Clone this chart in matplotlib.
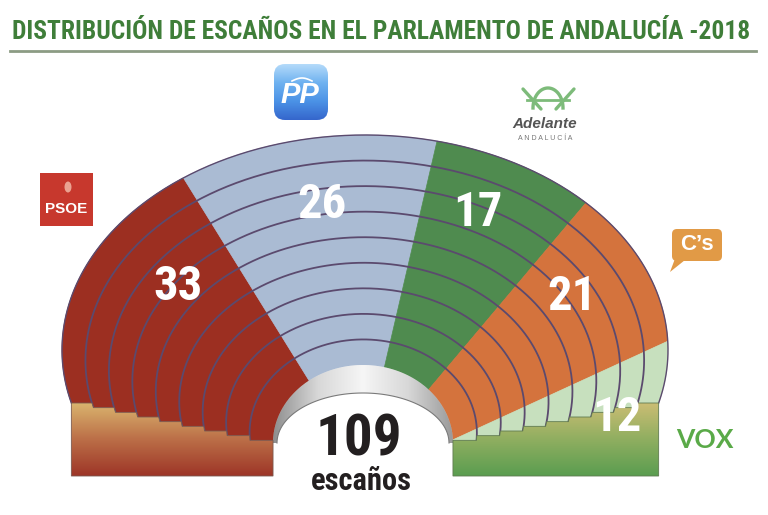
import numpy as np
import matplotlib
matplotlib.use("Agg")
import matplotlib.pyplot as plt
from matplotlib.patches import Polygon, FancyBboxPatch, Rectangle, Ellipse
from matplotlib.colors import LinearSegmentedColormap

# data
parties = ["PSOE", "PP", "Adelante Andalucía", "Cs", "Vox"]
seats = [33, 26, 17, 21, 12]
colors = ["#9c2f21", "#aabbd3", "#4f8b4f", "#d4733d", "#c7e0be"]
title = "DISTRIBUCIÓN DE ESCAÑOS EN EL PARLAMENTO DE ANDALUCÍA -2018"
total = sum(seats)

# layout (pixels, y pointing down)
W, H = 768, 515
label_pos = [(178, 287), (322, 205), (478, 213), (572, 297), (617, 418)]
NARROW = ['Roboto Condensed', 'DejaVu Sans']
SANS = ['Liberation Sans', 'DejaVu Sans']

fig = plt.figure(figsize=(W / 100, H / 100), dpi=100)
ax = fig.add_axes([0, 0, 1, 1])
ax.set_xlim(0, W)
ax.set_ylim(H, 0)
ax.axis('off')

# hemicycle made of rows between an inner and an outer ellipse
n_rows = 9
inner = dict(cx=363, cy=443, rx=90, ry=78)
outer = dict(cx=365, cy=350, rx=303, ry=215)
base_in, base_out, base_bottom = 445, 403, 476
step_y = [base_in - (base_in - base_out) * (k + 1) / n_rows for k in range(n_rows)]
t_start, t_end = 191, -21


def ell(r):
    return {k: inner[k] + r * (outer[k] - inner[k]) for k in inner}


def arc(r, t0, t1, n=120):
    e = ell(r)
    t = np.radians(np.linspace(t0, t1, n))
    return np.column_stack([e['cx'] + e['rx'] * np.cos(t), e['cy'] - e['ry'] * np.sin(t)])


def limits(r, y):
    e = ell(r)
    a = np.degrees(np.arcsin(np.clip((y - e['cy']) / e['ry'], -1, 1)))
    return 180 + a, -a


cum = np.concatenate([[0], np.cumsum(seats)])
bounds = t_start - (t_start - t_end) * cum / total
bounds[0], bounds[-1] = 999, -999

for k in range(n_rows):
    r0, r1 = k / n_rows, (k + 1) / n_rows
    y = step_y[k]
    L0, R0 = limits(r0, y)
    L1, R1 = limits(r1, y)
    for p in range(len(seats)):
        hi, lo = bounds[p], bounds[p + 1]
        a1, b1 = min(hi, L1), max(lo, R1)
        a0, b0 = min(hi, L0), max(lo, R0)
        if a1 <= b1 and a0 <= b0:
            continue
        b1 = min(b1, a1)
        b0 = min(b0, a0)
        poly = np.vstack([arc(r1, a1, b1), arc(r0, b0, a0)])
        ax.add_patch(Polygon(poly, closed=True, facecolor=colors[p],
                             edgecolor=colors[p], lw=0.5, zorder=2))

# row separators
for k in range(1, n_rows + 1):
    r = k / n_rows
    y = step_y[k - 1]
    L, R = limits(r, y)
    xy = arc(r, L, R, 300)
    ax.plot(xy[:, 0], xy[:, 1], color="#5b4a6e", lw=1.3 if k < n_rows else 1.0, zorder=3)


def gradient_fill(poly_xy, cols, vertical=True, zorder=4):
    patch = Polygon(poly_xy, closed=True, facecolor='none', edgecolor='none', zorder=zorder)
    ax.add_patch(patch)
    x0, y0 = poly_xy.min(axis=0)
    x1, y1 = poly_xy.max(axis=0)
    cmap = LinearSegmentedColormap.from_list("g", cols)
    g = np.linspace(0, 1, 256)
    img = g[:, None] if vertical else g[None, :]
    im = ax.imshow(img, cmap=cmap, extent=(x0, x1, y1, y0), aspect='auto',
                   origin='upper', zorder=zorder, interpolation='bilinear')
    im.set_clip_path(patch)
    return patch


# stepped base blocks
def base_points(side):
    pts = []
    L0, R0 = limits(0, step_y[0])
    t0 = L0 if side == 'L' else R0
    pts.append((arc(0, t0, t0, 1)[0][0], base_bottom))
    for k in range(n_rows):
        y = step_y[k]
        for r in (k / n_rows, (k + 1) / n_rows):
            L, R = limits(r, y)
            t = L if side == 'L' else R
            pts.append((arc(r, t, t, 1)[0][0], y))
    pts.append((pts[-1][0], base_bottom))
    return np.array(pts)


left = base_points('L')
right = base_points('R')
gradient_fill(left, ["#dab46e", "#bb6e47", "#9d3527"])
ax.add_patch(Polygon(left, closed=True, facecolor='none', edgecolor="#7a5a50", lw=0.6, zorder=5))
gradient_fill(right, ["#cbbd74", "#8fae60", "#5a9d50"])
ax.add_patch(Polygon(right, closed=True, facecolor='none', edgecolor="#5f7a50", lw=0.6, zorder=5))

# grey arch around the opening
ta = np.radians(np.linspace(180, 0, 120))
arch = np.vstack([arc(0, 0, 180), np.column_stack([363 + 86 * np.cos(ta), 443 - 50 * np.sin(ta)])])
gradient_fill(arch, ["#8e8e8e", "#d8d8d8", "#f6f6f6", "#d8d8d8", "#9a9a9a"], vertical=False)
inner_line = arch[120:]
ax.plot(inner_line[:, 0], inner_line[:, 1], color="#7a7a7a", lw=0.8, zorder=5)

# seat numbers
for (x, y), s in zip(label_pos, seats):
    ax.text(x, y, str(s), color="white", fontsize=35, fontweight='bold',
            family=NARROW, ha='center', va='center', zorder=10)

ax.text(359, 440, str(total), color="#231f20", fontsize=41, fontweight='bold',
        family=NARROW, ha='center', va='center', zorder=10)
ax.text(361, 481, "escaños", color="#231f20", fontsize=22, fontweight='bold',
        family=NARROW, ha='center', va='center', zorder=10)

# title
t = ax.text(381, 32, title, color="#3f7e39", fontsize=20, fontweight='bold',
            family=NARROW, ha='center', va='center')
fig.canvas.draw()
bb = t.get_window_extent()
t.set_fontsize(20 * 740 / bb.width)
ax.plot([10, 756], [51, 51], color="#8c9c84", lw=2)

# party logos
ax.add_patch(Rectangle((40, 173), 53, 53, facecolor="#c7382d", edgecolor='none'))
ax.add_patch(Ellipse((68, 187), 7, 11, facecolor="#eaa291", edgecolor='none'))
ax.text(66.5, 209, "PSOE", color="white", fontsize=11, fontweight='bold',
        family=SANS, ha='center', va='center')

pp = FancyBboxPatch((274, 64), 54, 56, boxstyle="round,pad=0,rounding_size=11",
                    facecolor='none', edgecolor='none')
ax.add_patch(pp)
cm = LinearSegmentedColormap.from_list("pp", ["#b5dbfa", "#6fb2f0", "#4b92e6", "#3566cc"])
im = ax.imshow(np.linspace(0, 1, 256)[:, None], cmap=cm, extent=(274, 328, 120, 64),
               aspect='auto', origin='upper')
im.set_clip_path(pp)
ax.text(300, 95, "PP", color="white", fontsize=21, fontweight='bold', style='italic',
        family=SANS, ha='center', va='center')
bx = np.linspace(292, 312, 30)
ax.plot(bx, 81 - 3 * np.sin(np.linspace(0, np.pi, 30)), color="white", lw=1.2)

g = "#7dbb7a"
ax.plot([523, 541], [89, 109], color=g, lw=2.4, solid_capstyle='round')
ax.plot([574, 556], [89, 109], color=g, lw=2.4, solid_capstyle='round')
tt = np.radians(np.linspace(0, 180, 60))
ax.plot(548 + 15 * np.cos(tt), 108 - 20 * np.sin(tt), color=g, lw=2.4)
ax.plot([527, 569], [100, 100], color=g, lw=2.0)
ax.text(545, 124, "Adelante", color="#555555", fontsize=11, fontweight='bold',
        style='italic', family=SANS, ha='center', va='center')
ax.text(545, 138, "A N D A L U C Í A", color="#777777", fontsize=5,
        family=SANS, ha='center', va='center')

ax.add_patch(FancyBboxPatch((672, 229), 50, 32, boxstyle="round,pad=0,rounding_size=5",
                            facecolor="#e19a46", edgecolor='none'))
ax.add_patch(Polygon([(676, 256), (690, 256), (670, 272)], closed=True,
                     facecolor="#e19a46", edgecolor='none'))
ax.text(697, 245, "C’s", color="white", fontsize=16, fontweight='bold',
        family=SANS, ha='center', va='center')

ax.text(705, 440, "VOX", color="#5aaa48", fontsize=19, fontweight='bold',
        family=['Lato', 'DejaVu Sans'], ha='center', va='center')

fig.savefig("out.png", dpi=100, facecolor='white')
